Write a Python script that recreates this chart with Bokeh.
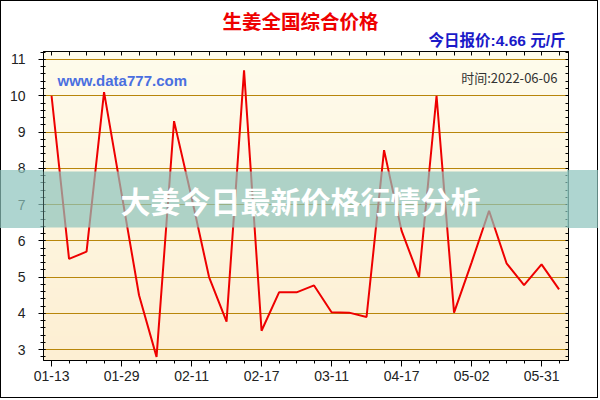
import numpy as np
from bokeh.plotting import figure
from bokeh.models import Range1d, FixedTicker, SingleIntervalTicker, LinearAxis, Label, Title
from bokeh.embed import file_html
from bokeh.resources import INLINE

# daily national ginger price (yuan / jin), one point per trading record
prices = [10.0, 5.5, 5.7, 10.1, 7.3, 4.5, 2.8, 9.3, 7.2, 5.0,
          3.77, 10.7, 3.52, 4.58, 4.58, 4.77, 4.03, 4.02, 3.9, 8.5,
          6.28, 5.0, 10.0, 4.02, 5.4, 6.83, 5.38, 4.78, 5.35, 4.66]
label_positions = [0, 4, 8, 12, 16, 20, 24, 28]
date_labels = ["01-13", "01-29", "02-11", "02-17", "03-11", "04-17", "05-02", "05-31"]
title_text = "生姜全国综合价格"
today_text = "今日报价:4.66 元/斤"
site_text = "www.data777.com"
time_text = "时间:2022-06-06"
banner_text = "大姜今日最新价格行情分析"

xs = list(range(len(prices)))
X0, X1 = -0.46, 29.54
Y0, Y1 = 2.70, 11.22

BAND = "rgba(140,195,188,0.7)"
HEAD_FONT = "Liberation Sans, Noto Sans CJK SC"

p = figure(width=598, height=398, output_backend="svg", toolbar_location=None,
           x_range=Range1d(X0, X1), y_range=Range1d(Y0, Y1),
           min_border_left=42, min_border_right=31, min_border_top=50, min_border_bottom=39)
p.styles = {"border": "1px solid #000000"}
# the banner continues past the plot frame on both sides of the page
p.stylesheets = ["""
:host { position: relative; }
:host::before, :host::after {
  content: ""; position: absolute; top: 169px; height: 58px;
  background: %s; z-index: 10; pointer-events: none;
}
:host::before { left: -1px; width: 43px; }
:host::after { right: -1px; width: 31px; }
""" % BAND]
p.background_fill_color = "#FFFCEB"
p.border_fill_color = "#FFFFFF"
p.outline_line_color = "#000000"
p.outline_line_width = 1

# soft vertical cream gradient behind the plot
n = 64
t = np.linspace(0, 1, n)[:, None]
bottom_c = np.array([253, 239, 211])
top_c = np.array([255, 252, 236])
cols = (bottom_c + (top_c - bottom_c) * t).astype(np.uint8)
rgba = np.zeros((n, 1, 4), dtype=np.uint8)
rgba[:, :, :3] = cols[:, None, :]
rgba[:, :, 3] = 255
img = rgba.view(dtype=np.uint32).reshape((n, 1))
p.image_rgba(image=[img], x=X0, y=Y0, dw=X1 - X0, dh=Y1 - Y0, level="image")

# axes
yticker = SingleIntervalTicker(interval=1, num_minor_ticks=5)
xticker = FixedTicker(ticks=label_positions, minor_ticks=xs)

p.yaxis.ticker = yticker
p.xaxis.ticker = xticker
p.xaxis.major_label_overrides = dict(zip(label_positions, date_labels))

for ax in (p.xaxis[0], p.yaxis[0]):
    ax.axis_line_color = "#000000"
    ax.major_tick_line_color = "#000000"
    ax.minor_tick_line_color = "#000000"
    ax.major_label_text_font = "Liberation Sans"
    ax.major_label_text_font_size = "14px"
    ax.major_label_text_color = "#222222"

p.yaxis.major_tick_in = 2
p.yaxis.major_tick_out = 5
p.yaxis.minor_tick_in = 2
p.yaxis.minor_tick_out = 3
p.yaxis.major_label_standoff = 13

p.xaxis.major_tick_in = 0
p.xaxis.major_tick_out = 6
p.xaxis.minor_tick_in = 0
p.xaxis.minor_tick_out = 3
p.xaxis.major_label_standoff = 4

# tick-only frame edges on top and right
top_ax = LinearAxis(ticker=FixedTicker(ticks=[], minor_ticks=xs),
                    major_tick_out=0, minor_tick_in=4, minor_tick_out=0,
                    major_label_standoff=0, axis_line_color="#000000")
right_minor = [round(2.8 + 0.2 * i, 1) for i in range(43)]
right_ax = LinearAxis(ticker=FixedTicker(ticks=[], minor_ticks=right_minor),
                      major_tick_out=0, minor_tick_in=3, minor_tick_out=0,
                      major_label_standoff=0, axis_line_color="#000000")
p.add_layout(right_ax, "right")

p.xgrid.grid_line_color = None
p.ygrid.ticker = yticker
p.ygrid.grid_line_color = "#B8860B"
p.ygrid.grid_line_width = 1

p.line(xs, prices, line_color="#EE0000", line_width=2)

# header titles
p.add_layout(top_ax, "above")
p.add_layout(Title(text=today_text, text_font=HEAD_FONT, text_font_style="bold",
                   text_font_size="15.5px", text_color="#1A1AC8", align="right",
                   offset=3, standoff=5), "above")
p.add_layout(Title(text=title_text, text_font=HEAD_FONT, text_font_style="bold",
                   text_font_size="19.5px", text_color="#EE0000", align="left",
                   offset=179, standoff=-11), "above")

# in-frame notes (screen units from the frame's bottom-left corner)
p.add_layout(Label(x=14, y=280, x_units="screen", y_units="screen", text=site_text,
                   text_font="Liberation Sans", text_font_style="bold", text_font_size="15px",
                   text_color="#4A6FE0", text_align="left", text_baseline="middle"))
p.add_layout(Label(x=514, y=283, x_units="screen", y_units="screen", text=time_text,
                   text_font="Noto Sans CJK SC", text_font_size="13px",
                   text_color="#333333", text_align="right", text_baseline="middle"))

# translucent banner across the middle of the page
p.add_layout(Label(x=257, y=161, x_units="screen", y_units="screen", text=banner_text,
                   text_font="Noto Sans CJK SC", text_font_style="bold", text_font_size="30px",
                   text_color="#FFFFFF", text_align="center", text_baseline="middle",
                   background_fill_color="#8CC3BC", background_fill_alpha=0.7,
                   padding=(122, 6), level="overlay"))

open("out.html", "w").write(file_html(p, INLINE))
